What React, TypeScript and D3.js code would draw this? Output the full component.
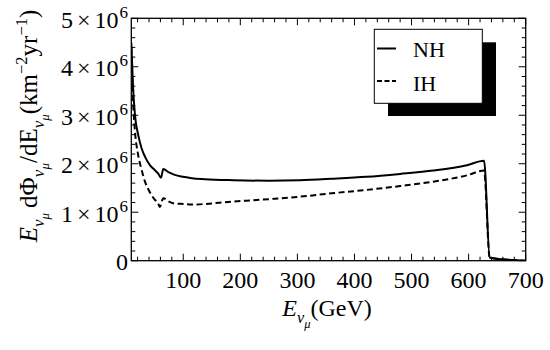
import React from "react";
import * as d3 from "d3";

const nhEnergy = [9, 12, 15.5, 21, 27, 34, 41.6, 50, 56, 61, 65, 75, 85, 100, 115, 138, 188, 250, 304, 360, 421, 480, 538, 597, 627, 637, 700];
const nhFlux = [4.5, 3.6, 3.0, 2.6, 2.32, 2.12, 1.97, 1.87, 1.8, 1.71, 1.89, 1.82, 1.77, 1.73, 1.7, 1.68, 1.66, 1.65, 1.66, 1.69, 1.73, 1.79, 1.86, 1.97, 2.06, 0.06, 0.0];
const ihEnergy = [9, 12, 15.5, 21, 27, 33, 39, 44.6, 50, 56, 59, 65, 75, 85, 100, 115, 188, 250, 304, 360, 421, 480, 538, 597, 627, 637, 700];
const ihFlux = [4.4, 3.3, 2.66, 2.18, 1.88, 1.63, 1.47, 1.35, 1.26, 1.18, 1.11, 1.29, 1.22, 1.18, 1.17, 1.16, 1.22, 1.27, 1.32, 1.39, 1.46, 1.54, 1.63, 1.76, 1.86, 0.06, 0.0];

const xTicks = [100, 200, 300, 400, 500, 600, 700];
const yTicks = [0, 1, 2, 3, 4, 5];
const seriesNames = ["NH", "IH"];

const FONT = "Liberation Serif";

type Seg = { t: string; lv: number; it?: boolean };

function Rich({ segs, F }: { segs: Seg[]; F: number }) {
  const size = (lv: number) => (lv === 0 ? F : lv === 1 ? 0.68 * F : lv === 2 ? 0.52 * F : 0.66 * F);
  const off = (lv: number) => (lv === 0 ? 0 : lv === 1 ? 0.28 * F : lv === 2 ? 0.48 * F : -0.42 * F);
  let cur = 0;
  return (
    <>
      {segs.map((s, i) => {
        const o = off(s.lv);
        const dy = o - cur;
        cur = o;
        return (
          <tspan key={i} dy={dy} fontSize={size(s.lv)} fontStyle={s.it ? "italic" : "normal"}>
            {s.t}
          </tspan>
        );
      })}
    </>
  );
}

export default function App() {
  const W = 550, H = 350;
  const L = 131.3, R = 525.7, T = 18.3, B = 260.7;
  const x = d3.scaleLinear().domain([9, 700]).range([L, R]);
  const y = d3.scaleLinear().domain([0, 5]).range([B, T]);
  const line = d3
    .line<[number, number]>()
    .x((d) => x(d[0]))
    .y((d) => y(d[1]))
    .curve(d3.curveMonotoneX);
  const nh = line(nhEnergy.map((e, i) => [e, nhFlux[i]] as [number, number])) || "";
  const ih = line(ihEnergy.map((e, i) => [e, ihFlux[i]] as [number, number])) || "";

  const xMinor = d3.range(20, 701, 20).filter((v) => v % 100 !== 0);
  const yMinor = d3.range(0, 5.0001, 0.2).filter((v) => Math.abs(v - Math.round(v)) > 1e-6);
  const tf = 24;

  const sub: Seg[] = [
    { t: "ν", lv: 1, it: true },
    { t: "μ", lv: 2, it: true },
  ];
  const yLabel: Seg[] = [
    { t: "E", lv: 0, it: true },
    ...sub,
    { t: "\u2009dΦ", lv: 0 },
    ...sub,
    { t: "/dE", lv: 0 },
    ...sub,
    { t: "(km", lv: 0 },
    { t: "−2", lv: -1 },
    { t: "yr", lv: 0 },
    { t: "−1", lv: -1 },
    { t: ")", lv: 0 },
  ];
  const xLabel: Seg[] = [{ t: "E", lv: 0, it: true }, ...sub, { t: "(GeV)", lv: 0 }];

  return (
    <svg width={W} height={H} style={{ position: "absolute", left: 0, top: 0, background: "#fff" }}>
      <rect x={0} y={0} width={W} height={H} fill="#fff" />
      <defs>
        <clipPath id="plot">
          <rect x={L} y={T} width={R - L} height={B - T} />
        </clipPath>
      </defs>
      <g stroke="#000" strokeWidth={1}>
        {xTicks.map((v) => (
          <g key={"xt" + v}>
            <line x1={x(v)} x2={x(v)} y1={B} y2={B - 7} />
            <line x1={x(v)} x2={x(v)} y1={T} y2={T + 7} />
          </g>
        ))}
        {xMinor.map((v) => (
          <g key={"xm" + v}>
            <line x1={x(v)} x2={x(v)} y1={B} y2={B - 4} />
            <line x1={x(v)} x2={x(v)} y1={T} y2={T + 4} />
          </g>
        ))}
        {yTicks.map((v) => (
          <g key={"yt" + v}>
            <line x1={L} x2={L + 7} y1={y(v)} y2={y(v)} />
            <line x1={R} x2={R - 7} y1={y(v)} y2={y(v)} />
          </g>
        ))}
        {yMinor.map((v) => (
          <g key={"ym" + v}>
            <line x1={L} x2={L + 4} y1={y(v)} y2={y(v)} />
            <line x1={R} x2={R - 4} y1={y(v)} y2={y(v)} />
          </g>
        ))}
      </g>
      <g clipPath="url(#plot)" fill="none" stroke="#000" strokeWidth={2}>
        <path d={nh} />
        <path d={ih} strokeDasharray="6,3.5" />
      </g>
      <rect x={L} y={T} width={R - L} height={B - T} fill="none" stroke="#000" strokeWidth={1.3} />
      {xTicks.map((v) => (
        <text key={"xl" + v} x={x(v)} y={288} textAnchor="middle" fontSize={tf} style={{ fontFamily: FONT }}>
          {v}
        </text>
      ))}
      {yTicks.map((v) =>
        v === 0 ? (
          <text key={"yl" + v} x={128} y={y(v) + 9} textAnchor="end" fontSize={tf} style={{ fontFamily: FONT }}>
            0
          </text>
        ) : (
          <text key={"yl" + v} x={128} y={y(v) + 9.5} textAnchor="end" fontSize={tf} style={{ fontFamily: FONT }}>
            <tspan>{v}</tspan>
            <tspan dx={4}>×</tspan>
            <tspan dx={4}>10</tspan>
            <tspan dx={1} dy={-10} fontSize={17}>6</tspan>
          </text>
        )
      )}
      <text x={327} y={316} textAnchor="middle" fontSize={24} style={{ fontFamily: FONT }}>
        <Rich segs={xLabel} F={24} />
      </text>
      <text transform="translate(37,126) rotate(-90)" textAnchor="middle" fontSize={25} style={{ fontFamily: FONT }}>
        <Rich segs={yLabel} F={25} />
      </text>
      <rect x={388} y={42.3} width={108} height={73.7} fill="#000" />
      <rect x={374.3} y={29.3} width={108} height={74} fill="#fff" stroke="#000" strokeWidth={1} />
      <line x1={377} x2={396} y1={48.5} y2={48.5} stroke="#000" strokeWidth={2} />
      <line x1={377} x2={396} y1={81} y2={81} stroke="#000" strokeWidth={2} strokeDasharray="5,2.5" />
      <text x={413} y={57} fontSize={22} style={{ fontFamily: FONT }}>{seriesNames[0]}</text>
      <text x={413} y={91} fontSize={22} style={{ fontFamily: FONT }}>{seriesNames[1]}</text>
    </svg>
  );
}
